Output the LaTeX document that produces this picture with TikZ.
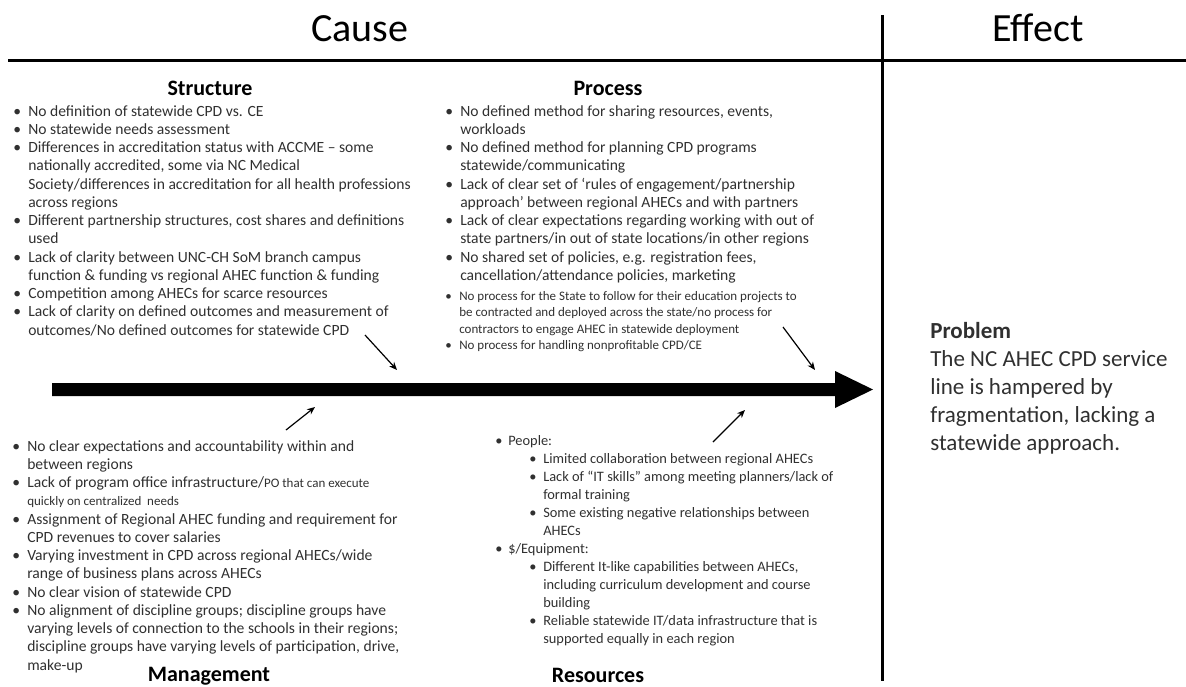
\documentclass[tikz,border=0pt]{standalone}
\usepackage{fontspec}
\setmainfont{Carlito}
\usetikzlibrary{arrows.meta}
\definecolor{bodytext}{HTML}{303030}
\newcommand\BulletLine[1]{\makebox[11.25pt][l]{•}#1}
\newcommand\ContLine[1]{\hspace{11.25pt}#1}
\newcommand\SmallTxt{\fontsize{9.75pt}{12.4pt}\selectfont}
\begin{document}
\begin{tikzpicture}[x=0.75pt,y=-0.75pt,
  body/.style={anchor=north west,inner sep=0pt,text=bodytext,font=\fontsize{11.7pt}{13.7pt}\selectfont},
  smallbody/.style={anchor=north west,inner sep=0pt,text=bodytext,font=\fontsize{9.75pt}{12.4pt}\selectfont},
  resbody/.style={anchor=north west,inner sep=0pt,text=bodytext,font=\fontsize{10.8pt}{13.5pt}\selectfont},
  heading/.style={anchor=base,inner sep=0pt,font=\fontsize{16.5pt}{20pt}\selectfont\bfseries},
  header/.style={anchor=base,inner sep=0pt,font=\fontsize{30pt}{36pt}\selectfont},
  problemtxt/.style={anchor=north west,inner sep=0pt,text=bodytext,font=\fontsize{17.25pt}{21pt}\selectfont},
  rule/.style={line width=2.25pt},
  pointer/.style={line width=0.9pt,-{Stealth[length=6pt,width=5pt]}}]
\useasboundingbox (0,0) rectangle (1186,686);
% header
\node[header] (cause) at (360,41) {Cause};
\node[header] (effect) at (1038,41) {Effect};
\coordinate (hl) at (8,60);
\coordinate (hr) at (1186,60);
\draw[rule] (hl) -- (hr);
\coordinate (vt) at (882,15);
\coordinate (vb) at (882,681);
\draw[rule] (vt) -- (vb);
% spine
\fill (52,383) -- (835,383) -- (835,371) -- (873,389.5) -- (835,408) -- (835,396) -- (52,396) -- cycle;
% Structure
\node[heading] (structh) at (210,95) {Structure};
\node[body] (struct) at (13,103) {\begin{tabular}{@{}l@{}}
\BulletLine{No definition of statewide CPD vs. CE}\\
\BulletLine{No statewide needs assessment}\\
\BulletLine{Differences in accreditation status with ACCME – some}\\
\ContLine{nationally accredited, some via NC Medical}\\
\ContLine{Society/differences in accreditation for all health professions}\\
\ContLine{across regions}\\
\BulletLine{Different partnership structures, cost shares and definitions}\\
\ContLine{used}\\
\BulletLine{Lack of clarity between UNC-CH SoM branch campus}\\
\ContLine{function \& funding vs regional AHEC function \& funding}\\
\BulletLine{Competition among AHECs for scarce resources}\\
\BulletLine{Lack of clarity on defined outcomes and measurement of}\\
\ContLine{outcomes/No defined outcomes for statewide CPD}
\end{tabular}};
% Process
\node[heading] (proch) at (608,95) {Process};
\node[body] (proc) at (445,103) {\begin{tabular}{@{}l@{}}
\BulletLine{No defined method for sharing resources, events,}\\
\ContLine{workloads}\\
\BulletLine{No defined method for planning CPD programs}\\
\ContLine{statewide/communicating}\\
\BulletLine{Lack of clear set of ‘rules of engagement/partnership}\\
\ContLine{approach’ between regional AHECs and with partners}\\
\BulletLine{Lack of clear expectations regarding working with out of}\\
\ContLine{state partners/in out of state locations/in other regions}\\
\BulletLine{No shared set of policies, e.g. registration fees,}\\
\ContLine{cancellation/attendance policies, marketing}
\end{tabular}};
\node[smallbody] (procsmall) at (445,288.5) {\begin{tabular}{@{}l@{}}
\makebox[10.5pt][l]{•}No process for the State to follow for their education projects to\\
\hspace{10.5pt}be contracted and deployed across the state/no process for\\
\hspace{10.5pt}contractors to engage AHEC in statewide deployment\\
\makebox[10.5pt][l]{•}No process for handling nonprofitable CPD/CE
\end{tabular}};
% Management
\node[body] (mgmt) at (12,438) {\begin{tabular}{@{}l@{}}
\BulletLine{No clear expectations and accountability within and}\\
\ContLine{between regions}\\
\BulletLine{Lack of program office infrastructure/{\SmallTxt PO that can execute}}\\
\ContLine{\SmallTxt quickly on centralized\ \ needs}\\
\BulletLine{Assignment of Regional AHEC funding and requirement for}\\
\ContLine{CPD revenues to cover salaries}\\
\BulletLine{Varying investment in CPD across regional AHECs/wide}\\
\ContLine{range of business plans across AHECs}\\
\BulletLine{No clear vision of statewide CPD}\\
\BulletLine{No alignment of discipline groups; discipline groups have}\\
\ContLine{varying levels of connection to the schools in their regions;}\\
\ContLine{discipline groups have varying levels of participation, drive,}\\
\ContLine{make-up}
\end{tabular}};
\node[heading] (mgmth) at (209,681) {Management};
% Resources
\node[resbody] (res) at (495,433) {\begin{tabular}{@{}l@{}}
\makebox[9.75pt][l]{•}People:\\
\hspace{25.5pt}\makebox[10.5pt][l]{•}Limited collaboration between regional AHECs\\
\hspace{25.5pt}\makebox[10.5pt][l]{•}Lack of “IT skills” among meeting planners/lack of\\
\hspace{36pt}formal training\\
\hspace{25.5pt}\makebox[10.5pt][l]{•}Some existing negative relationships between\\
\hspace{36pt}AHECs\\
\makebox[9.75pt][l]{•}\$/Equipment:\\
\hspace{25.5pt}\makebox[10.5pt][l]{•}Different It-like capabilities between AHECs,\\
\hspace{36pt}including curriculum development and course\\
\hspace{36pt}building\\
\hspace{25.5pt}\makebox[10.5pt][l]{•}Reliable statewide IT/data infrastructure that is\\
\hspace{36pt}supported equally in each region
\end{tabular}};
\node[heading] (resh) at (598,682) {Resources};
% pointers
\coordinate (sa1) at (365,335); \coordinate (sa2) at (397,370);
\coordinate (pa1) at (783,327); \coordinate (pa2) at (815,370);
\coordinate (ma1) at (286,430); \coordinate (ma2) at (315,407);
\coordinate (ra1) at (713,442); \coordinate (ra2) at (745,410);
\draw[pointer] (sa1) -- (sa2);
\draw[pointer] (pa1) -- (pa2);
\draw[pointer] (ma1) -- (ma2);
\draw[pointer] (ra1) -- (ra2);
% Problem
\node[problemtxt] (problem) at (930,319) {\begin{tabular}{@{}l@{}}
\textbf{Problem}\\
The NC AHEC CPD service\\
line is hampered by\\
fragmentation, lacking a\\
statewide approach.
\end{tabular}};
\end{tikzpicture}
\end{document}
